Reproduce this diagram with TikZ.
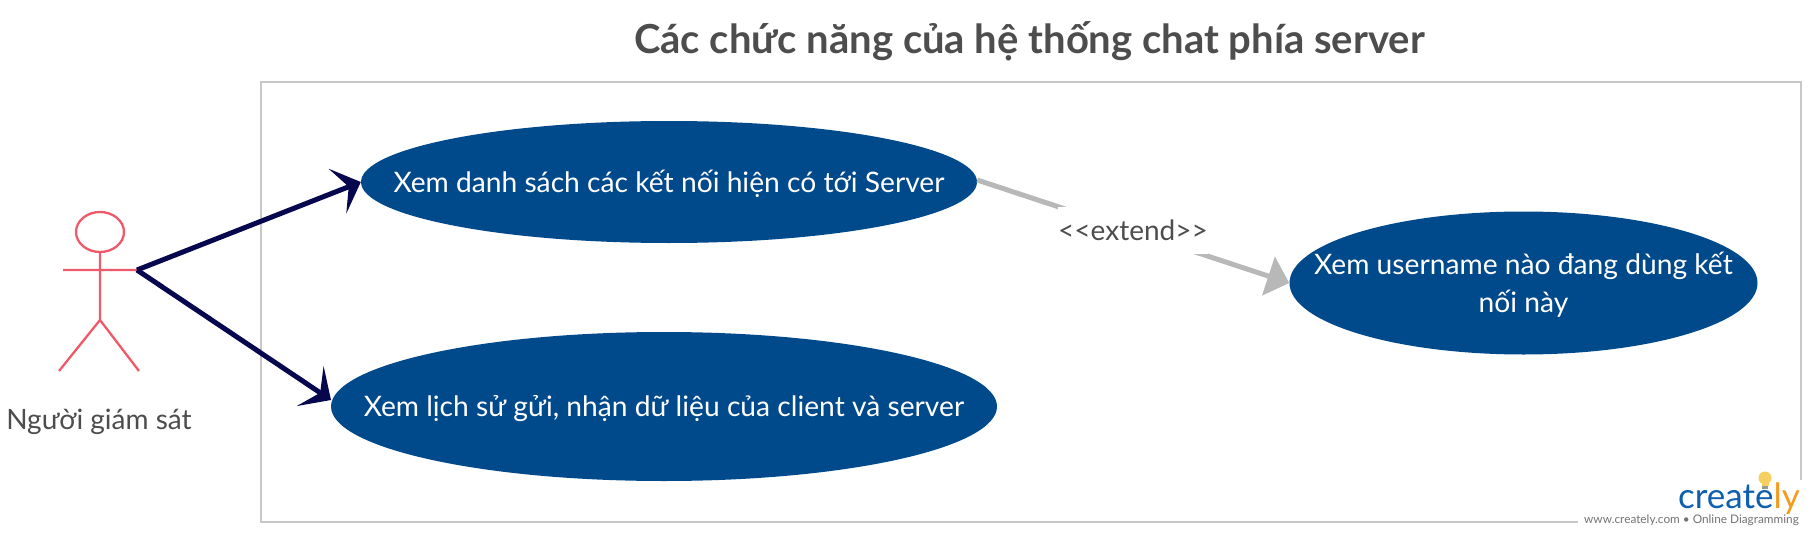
\documentclass[tikz,border=0pt]{standalone}
\usepackage{fontspec}
\setmainfont{Lato}
\usetikzlibrary{arrows.meta,shapes.geometric}
\definecolor{navyline}{HTML}{07074F}
\definecolor{usecase}{HTML}{004A8C}
\definecolor{txtgray}{HTML}{4D4D4D}
\definecolor{framegray}{HTML}{C8C8C8}
\definecolor{extgray}{HTML}{B8B8B8}
\definecolor{actorred}{HTML}{EF5A6A}
\definecolor{logoblue}{HTML}{0F5FAF}
\definecolor{logoorange}{HTML}{F39C1F}
\definecolor{bulb}{HTML}{F5D060}
\newcommand\uctext[1]{\makebox[0pt]{\raisebox{-10pt}[0pt][0pt]{#1}}}
\tikzset{
  x=1pt,y=-1pt,
  uc/.style={ellipse,fill=usecase,text=white,inner sep=0pt,font=\fontsize{28.2}{38}\selectfont,align=center},
  assoc/.style={draw=navyline,line width=5pt,-{Stealth[length=25pt,width=48pt,inset=12pt]}},
  ext/.style={draw=extgray,line width=5pt,-{Triangle[length=22pt,width=40pt]}},
  actorline/.style={draw=actorred,line width=2.3pt},
  lbl/.style={text=txtgray,inner sep=0pt},
}
\begin{document}
\begin{tikzpicture}
\useasboundingbox (0,0) rectangle (1813,535);
\fill[white] (0,0) rectangle (1813,535);
\node[lbl,font=\bfseries\fontsize{40}{46}\selectfont] (title) at (1029.5,41) {Các chức năng của hệ thống chat phía server};
\draw[framegray,line width=2pt] (261,82) rectangle (1801,522);
% actor
\draw[actorline] (100,232) ellipse [x radius=24,y radius=20];
\coordinate (neck) at (100,252);
\coordinate (hip) at (100,320);
\coordinate (handL) at (63,270);
\coordinate (handR) at (137,270);
\coordinate (footL) at (59,371);
\coordinate (footR) at (139,371);
\draw[actorline] (neck) -- (hip) (handL) -- (handR) (hip) -- (footL) (hip) -- (footR);
\node[lbl,font=\fontsize{28}{32}\selectfont] (actor) at (99,422) {Người giám sát};
% use cases
\node[uc,minimum width=616pt,minimum height=122pt] (e1) at (669,182) {\uctext{Xem danh sách các kết nối hiện có tới Server}};
\node[uc,minimum width=666pt,minimum height=149pt] (e2) at (664,406.5) {\uctext{Xem lịch sử gửi, nhận dữ liệu của client và server}};
\node[uc,minimum width=468pt,minimum height=143pt] (e3) at (1523.5,283) {\uctext{Xem username nào đang dùng kết}\\\uctext{nối này}};
% connectors
\path (e1.east) ++(0,-2) coordinate (extS);
\draw[assoc] (handR) -- (e1.west);
\coordinate (e2tip) at (331,400);
\draw[assoc] (handR) -- (e2tip);
\draw[ext] (extS) -- (e3.west);
\node[lbl,fill=white,font=\fontsize{28}{32}\selectfont,minimum width=146pt,minimum height=47pt] (extl) at (1133,230) {<{}<extend>{}>};
% logo
\fill[white] (1578,505) rectangle (1813,535);
\fill[white] (1795,480) rectangle (1813,512);
\fill[bulb] (1765,478) circle (6.5);
\fill[bulb] (1761.5,480) rectangle (1768.5,486);
\fill[black!40] (1762,486) rectangle (1768,488.5);
\node[inner sep=0pt,anchor=base east,font=\fontsize{35}{36}\selectfont] (logo) at (1800,508) {\textcolor{logoblue}{create}\textcolor{logoorange}{ly}};
\node[inner sep=0pt,anchor=base east,text=black!55,font=\fontsize{11.8}{14}\selectfont] (url) at (1799,523) {www.creately.com • Online Diagramming};
\end{tikzpicture}
\end{document}
